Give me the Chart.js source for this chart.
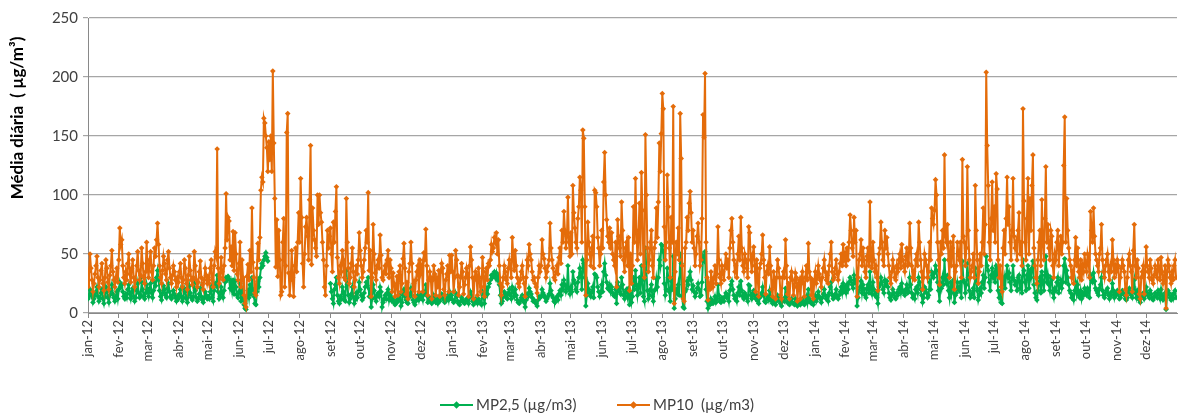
<!DOCTYPE html>
<html lang="pt">
<head>
<meta charset="utf-8">
<title>Média diária MP2,5 e MP10</title>
<script src="https://cdn.jsdelivr.net/npm/chart.js@4/dist/chart.umd.min.js"></script>
<style>
  html, body { margin: 0; padding: 0; background: #fff; }
  #wrap { position: relative; width: 1181px; height: 416px; }
</style>
</head>
<body>
<div id="wrap"><canvas id="mpChart" width="1181" height="416"></canvas></div>
<script>
const monthNames = ['jan', 'fev', 'mar', 'abr', 'mai', 'jun', 'jul', 'ago', 'set', 'out', 'nov', 'dez'];
const years = ['12', '13', '14'];
const monthDays = {
    '12': [31, 29, 31, 30, 31, 30, 31, 31, 30, 31, 30, 31],
    '13': [31, 28, 31, 30, 31, 30, 31, 31, 30, 31, 30, 31],
    '14': [31, 28, 31, 30, 31, 30, 31, 31, 30, 31, 30, 31]
};

// MP10 daily means (µg/m3), one line per month
const mp10_2012 = [
    22,35,50,38,28,18,25,33,40,48,30,22,28,36,42,25,19,30,45,38,26,20,32,40,53,35,28,22,30,38,26,
    45,72,58,62,40,30,25,35,28,42,50,33,26,38,45,30,22,28,40,52,36,28,32,55,42,30,25,35,60,
    38,30,45,52,35,28,40,55,48,62,76,58,40,30,25,36,48,42,33,28,45,52,38,30,25,32,40,35,28,22,30,
    26,35,42,30,22,28,45,38,25,20,32,48,36,28,24,30,52,40,28,22,26,35,44,30,24,20,28,38,32,25,
    30,25,38,45,28,22,40,52,48,139,38,25,30,47,35,28,40,55,101,62,81,78,45,56,40,69,36,68,50,33,28,
    42,60,22,45,30,15,8,5,31,41,28,53,35,89,43,30,17,15,38,59,45,64,104,115,111,165,161,150,140,120,
    145,130,150,120,205,144,97,39,79,31,70,45,15,18,60,80,22,40,153,169,34,15,28,53,30,14,40,55,35,60,85,
    60,114,81,42,22,50,73,81,65,45,96,142,41,89,70,62,55,48,100,75,100,85,77,60,45,22,15,40,70,55,65,
    72,50,35,77,60,86,107,47,30,25,40,35,53,45,30,28,97,60,38,25,30,42,55,35,22,28,40,33,45,68,
    53,40,30,35,45,55,70,60,102,36,53,14,30,75,50,34,28,40,45,38,66,49,30,28,35,40,33,45,53,30,45,
    38,18,34,25,14,22,31,15,35,40,18,25,46,59,38,16,26,12,35,42,60,42,20,25,14,28,35,40,18,45,
    35,40,18,51,45,71,40,15,28,35,30,12,28,40,33,15,30,22,36,14,35,42,38,20,15,28,33,40,18,49,35
];
const mp10_2013 = [
    49,35,18,30,53,45,32,15,22,30,42,35,16,24,30,38,33,14,40,56,45,30,12,28,35,32,15,38,30,18,22,
    47,35,14,30,38,28,42,40,45,58,52,55,64,60,68,50,62,40,25,15,22,30,40,35,28,25,38,45,
    38,30,64,48,36,53,40,30,25,22,28,35,40,30,25,14,30,45,40,58,50,45,35,28,30,25,22,17,30,40,35,
    40,62,50,46,38,30,35,40,45,76,55,45,38,30,28,35,40,33,47,55,42,70,60,86,70,55,65,98,60,48,
    68,50,108,85,72,60,55,80,90,115,104,60,155,148,90,15,45,77,60,50,40,55,65,38,104,102,90,64,55,40,50,
    70,55,111,136,100,79,65,60,72,55,68,50,45,40,60,22,79,65,55,48,94,70,45,35,55,60,40,64,19,50,
    25,40,90,60,114,70,45,65,93,50,119,87,40,30,151,100,55,35,45,60,70,40,30,55,60,89,64,94,144,120,152,
    186,173,73,45,60,117,90,55,30,81,60,175,8,35,60,50,72,45,169,131,40,12,10,55,60,81,70,93,103,85,60,
    70,55,40,50,65,76,60,40,45,80,168,149,203,60,30,11,25,20,35,28,22,30,40,25,33,73,45,30,25,40,
    35,28,40,50,38,45,30,55,70,80,60,45,35,40,30,50,65,45,81,55,40,35,50,45,38,30,73,68,45,35,50,
    56,40,18,45,30,14,38,42,50,66,45,30,16,35,40,33,56,40,20,14,35,28,12,30,45,38,30,15,12,30,
    35,30,62,40,16,25,12,30,35,28,15,22,34,30,10,25,28,12,30,35,25,14,30,40,28,59,35,30,15,28,12
];
const mp10_2014 = [
    28,35,25,30,40,33,28,22,30,38,45,35,28,32,25,40,50,60,35,28,30,38,45,33,28,35,42,50,40,58,45,
    50,40,55,45,60,83,70,55,48,81,60,70,14,30,45,50,62,40,55,45,35,30,48,55,40,94,45,38,
    60,45,35,40,30,19,50,55,77,60,45,40,70,55,64,50,40,30,25,35,45,38,30,28,40,35,45,50,38,58,45,
    40,35,48,55,40,42,76,55,40,30,35,28,45,50,40,77,60,45,35,20,30,50,45,40,30,35,60,45,89,80,
    75,87,113,100,60,45,24,60,50,70,55,134,65,60,75,45,30,60,40,55,65,20,35,40,60,50,45,60,30,130,65,
    60,40,55,124,70,45,30,35,40,50,30,108,70,45,25,35,50,40,60,89,50,75,204,142,108,60,45,80,111,70,
    90,60,118,105,45,30,40,22,18,55,70,50,80,115,75,90,60,45,70,114,65,55,60,45,70,85,50,60,40,173,95,
    60,45,80,114,50,97,70,108,134,55,40,30,25,45,60,70,40,96,60,45,80,124,60,75,55,45,70,65,40,30,50,
    45,60,70,40,55,65,50,60,125,166,60,97,70,55,45,40,30,35,25,45,64,40,55,35,30,45,28,40,35,50,
    40,35,50,45,30,86,70,60,89,65,50,45,40,35,50,55,75,45,35,30,40,45,50,35,28,40,35,62,45,30,40,
    35,45,40,18,30,38,45,40,35,20,15,30,45,50,40,35,18,53,75,40,30,45,38,16,12,30,35,40,16,35,
    56,40,35,30,45,38,28,25,32,40,35,30,45,38,28,47,35,25,30,40,4,35,45,40,30,25,35,28,40,45,30
];

// MP2,5 daily means (µg/m3); no measurements in jul and ago 2012
const mp25_2012 = [
    12,15,20,18,14,9,12,15,18,22,14,10,13,17,20,12,8,14,22,18,13,9,15,19,24,16,13,10,14,18,12,
    20,26,22,24,18,14,12,16,13,20,24,16,12,18,21,14,10,13,19,25,17,13,15,26,20,14,12,17,24,
    18,14,21,25,17,13,19,26,23,30,36,28,19,14,11,17,23,20,15,13,21,25,18,14,12,15,19,16,13,10,14,
    12,16,20,14,10,13,21,18,12,9,15,23,17,13,11,14,25,19,13,10,12,16,21,14,11,9,13,18,15,12,
    14,12,18,22,13,10,19,25,23,32,18,12,14,22,17,13,19,26,30,28,31,29,21,26,19,28,16,27,22,15,13,
    18,25,10,20,13,7,4,3,14,19,13,24,16,30,20,14,8,7,18,27,22,30,38,42,40,45,48,51,47,44,
    null,null,null,null,null,null,null,null,null,null,null,null,null,null,null,null,null,null,null,null,null,null,null,null,null,null,null,null,null,null,null,
    null,null,null,null,null,null,null,null,null,null,null,null,null,null,null,null,null,null,null,null,null,null,null,null,null,null,null,null,null,null,null,
    25,18,12,8,20,24,30,15,10,8,14,12,22,18,11,10,36,24,15,9,12,16,22,14,8,11,17,13,18,26,
    20,15,11,13,17,22,26,23,30,14,20,5,12,24,19,13,10,15,17,14,22,18,5,9,12,15,12,17,20,11,16,
    14,10,12,9,7,8,11,10,13,15,6,9,17,20,14,11,9,8,13,16,21,15,11,9,7,10,13,15,11,16,
    13,15,11,18,16,24,15,9,10,13,11,8,10,15,12,9,11,8,13,10,13,16,14,11,9,10,12,15,11,18,13
];
const mp25_2013 = [
    15,11,9,10,17,14,10,8,7,10,13,11,9,8,10,12,11,8,13,18,15,10,7,9,12,11,8,12,10,9,7,
    18,15,8,14,20,16,22,25,28,32,30,33,35,30,34,28,31,24,15,8,10,14,18,16,13,12,17,20,
    15,12,22,18,14,20,15,11,9,8,10,13,15,11,9,5,11,16,14,21,18,16,13,10,11,9,8,6,11,14,13,
    14,20,17,15,13,10,12,14,16,25,19,15,13,10,9,12,14,11,16,19,15,24,20,28,24,18,22,40,20,16,
    22,18,35,28,25,20,18,26,30,38,34,20,45,42,30,6,15,25,20,17,14,18,22,13,33,32,30,22,18,14,17,
    24,18,35,42,32,26,21,20,24,18,22,17,15,14,20,8,26,22,18,16,30,24,15,12,18,20,14,21,7,17,
    9,14,30,20,36,24,15,22,30,17,40,28,14,10,55,35,19,12,15,20,24,14,10,19,20,29,22,30,45,40,58,
    57,52,25,15,20,38,30,18,10,27,20,48,4,12,20,17,24,15,50,42,14,5,4,18,20,27,24,30,35,28,20,
    23,18,14,17,21,25,20,14,15,26,48,45,52,20,10,4,9,7,12,10,8,10,14,9,12,24,15,10,9,13,
    12,10,14,17,13,15,10,19,24,27,20,15,12,14,10,17,22,15,27,19,14,12,17,15,13,10,24,23,15,12,17,
    19,14,12,15,10,8,13,14,17,22,15,10,9,12,14,11,19,14,10,8,12,9,7,10,15,13,10,8,6,10,
    12,10,21,14,9,8,7,10,12,9,8,7,12,10,6,8,9,7,10,12,8,7,10,14,9,20,12,10,8,9,7
];
const mp25_2014 = [
    12,15,10,13,18,14,12,9,13,16,20,15,12,14,10,17,22,26,15,12,13,16,20,14,12,15,18,22,17,25,19,
    22,17,24,20,26,30,28,24,21,32,26,28,6,13,19,22,27,17,24,20,15,13,21,24,17,35,20,16,
    26,20,15,17,13,8,22,24,30,26,20,17,28,24,27,22,17,13,11,15,20,17,13,12,17,15,20,22,17,25,19,
    17,15,20,24,17,18,30,24,17,13,15,12,20,22,17,30,26,20,15,9,13,22,20,17,13,15,26,20,35,32,
    30,34,40,36,26,19,10,25,21,30,24,45,28,25,32,19,13,26,17,24,28,9,15,17,26,21,19,26,13,44,28,
    26,17,24,42,30,19,13,15,17,21,13,38,30,19,11,15,21,17,26,32,21,30,48,40,36,26,19,32,38,30,
    34,26,40,38,19,13,17,9,8,24,30,21,32,40,30,34,26,19,30,40,28,24,26,19,30,32,21,26,17,45,36,
    26,19,32,40,21,36,30,38,44,24,17,13,11,19,26,30,17,35,26,19,32,48,26,32,24,19,30,28,17,13,21,
    19,26,30,17,24,28,21,26,40,46,26,36,30,24,19,17,13,15,11,19,26,17,24,15,13,19,12,17,15,21,
    17,15,21,19,13,32,28,26,34,27,21,19,17,15,21,24,30,19,15,13,17,19,21,15,12,17,15,25,19,13,17,
    15,19,17,12,13,16,19,17,15,12,11,13,19,21,17,15,13,22,28,17,13,19,16,11,9,13,15,17,12,15,
    22,17,15,13,19,16,12,11,14,17,15,13,19,16,12,20,15,11,13,17,3,15,19,17,13,11,15,12,17,19,13
];

const GREEN = '#00B050';
const ORANGE = '#E46C0A';
const FONT = 'Lato, "Open Sans", sans-serif';
const TEXT = '#404040';
const AXIS = '#898989';

// month ticks: day index of the 1st of each month and its label
const monthStarts = [];
const monthLabels = [];
let day = 0;
years.forEach(y => {
    monthDays[y].forEach((n, m) => {
        monthStarts.push(day);
        monthLabels.push(monthNames[m] + '-' + y);
        day += n;
    });
});
const totalDays = day;

const toPoints = arr => arr.map((v, i) => ({ x: i, y: v }));
const mp10 = mp10_2012.concat(mp10_2013, mp10_2014);
const mp25 = mp25_2012.concat(mp25_2013, mp25_2014);

// y title and a line+marker legend, drawn by hand
const extras = {
    id: 'extras',
    afterDraw(chart) {
        const ctx = chart.ctx;
        ctx.save();
        ctx.fillStyle = '#000';
        ctx.font = 'bold 17px ' + FONT;
        ctx.textAlign = 'center';
        ctx.textBaseline = 'middle';
        ctx.translate(18, 118);
        ctx.rotate(-Math.PI / 2);
        ctx.fillText('Média diária  ( µg/m³)', 0, 0);
        ctx.restore();

        const items = [
            { x: 440, color: GREEN, text: chart.data.datasets[0].label },
            { x: 617, color: ORANGE, text: chart.data.datasets[1].label }
        ];
        const y = 405;
        ctx.save();
        ctx.font = '15px ' + FONT;
        ctx.textBaseline = 'middle';
        ctx.textAlign = 'left';
        items.forEach(it => {
            ctx.strokeStyle = it.color;
            ctx.lineWidth = 2;
            ctx.beginPath();
            ctx.moveTo(it.x, y);
            ctx.lineTo(it.x + 33, y);
            ctx.stroke();
            ctx.fillStyle = it.color;
            const cx = it.x + 16.5, r = 3.8;
            ctx.beginPath();
            ctx.moveTo(cx, y - r);
            ctx.lineTo(cx + r, y);
            ctx.lineTo(cx, y + r);
            ctx.lineTo(cx - r, y);
            ctx.closePath();
            ctx.fill();
            ctx.fillStyle = TEXT;
            ctx.fillText(it.text, it.x + 36, y);
        });
        ctx.restore();
    }
};

const ctx = document.getElementById('mpChart').getContext('2d');
new Chart(ctx, {
    type: 'line',
    data: {
        datasets: [{
            label: 'MP2,5 (µg/m3)',
            data: toPoints(mp25),
            borderColor: GREEN,
            backgroundColor: GREEN,
            borderWidth: 2,
            pointStyle: 'rectRot',
            pointRadius: 2.8,
            pointBorderWidth: 0,
            spanGaps: false,
            order: 2
        }, {
            label: 'MP10  (µg/m3)',
            data: toPoints(mp10),
            borderColor: ORANGE,
            backgroundColor: ORANGE,
            borderWidth: 2,
            pointStyle: 'rectRot',
            pointRadius: 2.8,
            pointBorderWidth: 0,
            order: 1
        }]
    },
    options: {
        responsive: false,
        animation: false,
        layout: { padding: { top: 18, left: 0, right: 0, bottom: 0 } },
        plugins: {
            legend: { display: false },
            tooltip: { enabled: false }
        },
        scales: {
            x: {
                type: 'linear',
                min: 0,
                max: totalDays,
                afterBuildTicks: s => { s.ticks = monthStarts.map(v => ({ value: v })); },
                afterFit: s => { s.height = 103; },
                ticks: {
                    autoSkip: false,
                    minRotation: 90,
                    maxRotation: 90,
                    padding: 2,
                    color: TEXT,
                    font: { family: FONT, size: 13 },
                    callback: (v, i) => monthLabels[i]
                },
                grid: { drawOnChartArea: false, drawTicks: true, tickLength: 5, color: AXIS },
                border: { color: AXIS, width: 1 }
            },
            y: {
                min: 0,
                max: 250,
                afterFit: s => { s.width = 88; },
                ticks: {
                    stepSize: 50,
                    padding: 5,
                    color: TEXT,
                    font: { family: FONT, size: 15 }
                },
                grid: { color: '#a6a6a6', lineWidth: 1.2, tickLength: 5 },
                border: { color: AXIS, width: 1 }
            }
        }
    },
    plugins: [extras]
});
</script>
</body>
</html>
